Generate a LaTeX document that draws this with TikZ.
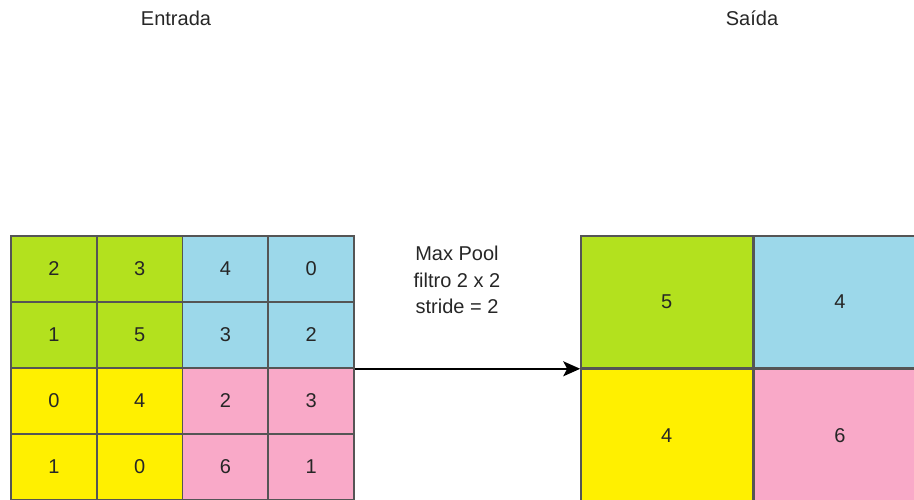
\documentclass[tikz,border=0pt]{standalone}
\usepackage{fontspec}
\setmainfont{Liberation Sans}
\usepackage{xcolor}
\usetikzlibrary{positioning,arrows.meta}

\definecolor{poolgreen}{HTML}{B3E11E}
\definecolor{poolblue}{HTML}{9CD8EA}
\definecolor{poolyellow}{HTML}{FFF000}
\definecolor{poolpink}{HTML}{F9A9C8}
\definecolor{gridline}{HTML}{555555}

\tikzset{
  cell/.style={draw=gridline, line width=1.6pt, minimum width=85.75pt, minimum height=66pt,
    inner sep=0pt, text=black!85, font=\fontsize{20}{24}\selectfont},
  bigcell/.style={cell, minimum width=171.5pt, minimum height=132pt},
  title/.style={text=black!85, font=\fontsize{20}{24}\selectfont}
}

\begin{document}
\begin{tikzpicture}[x=1pt, y=1pt]
  \useasboundingbox (0,0) rectangle (914,499);
  \clip (0,0) rectangle (914,499);

  % Titles
  \node[title] (entrada) at (176, 481) {Entrada};
  \node[title] (saida) at (752, 481) {Saída};

  % Input grid 4 x 4
  \foreach \v/\c [count=\k from 0] in {2/poolgreen, 3/poolgreen, 4/poolblue, 0/poolblue,
                                      1/poolgreen, 5/poolgreen, 3/poolblue, 2/poolblue,
                                      0/poolyellow, 4/poolyellow, 2/poolpink, 3/poolpink,
                                      1/poolyellow, 0/poolyellow, 6/poolpink, 1/poolpink} {
    \pgfmathtruncatemacro{\r}{div(\k,4)+1}
    \pgfmathtruncatemacro{\col}{mod(\k,4)+1}
    \node[cell, fill=\c] (in-\r-\col) at ({11+85.75*(\col-0.5)}, {263-66*(\r-0.5)}) {\v};
  }

  % Output grid 2 x 2
  \node[bigcell, fill=poolgreen] (out-1-1) at (666.75, 197) {5};
  \node[bigcell, fill=poolblue, right=0pt of out-1-1] (out-1-2) {4};
  \node[bigcell, fill=poolyellow, below=0pt of out-1-1] (out-2-1) {4};
  \node[bigcell, fill=poolpink, right=0pt of out-2-1] (out-2-2) {6};

  % Pooling step
  \draw[line width=1.8pt, -{Stealth[length=17pt, width=15pt, inset=4pt]}]
    (in-2-4.south east) -- (out-1-1.south west);
  \node[title, align=center, font=\fontsize{20}{26.5}\selectfont] (pool) at (457, 219)
    {Max Pool\\filtro 2 x 2\\stride = 2};
\end{tikzpicture}
\end{document}
